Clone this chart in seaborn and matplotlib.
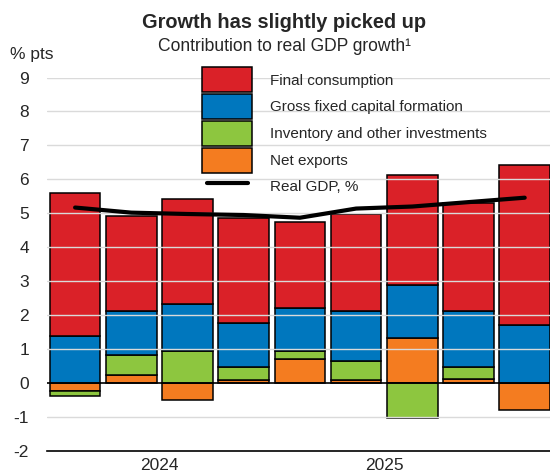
import matplotlib
matplotlib.use("Agg")
import matplotlib.pyplot as plt
from matplotlib.patches import Patch
from matplotlib.lines import Line2D
from matplotlib.legend_handler import HandlerLine2D
import numpy as np
import pandas as pd
import seaborn as sns

# Quarterly contributions to real GDP growth (% pts), 2024Q1-2026Q1
quarters = ["2024Q1", "2024Q2", "2024Q3", "2024Q4",
            "2025Q1", "2025Q2", "2025Q3", "2025Q4", "2026Q1"]
final_consumption = [4.22, 2.78, 3.07, 3.09, 2.55, 2.84, 3.23, 3.20, 4.72]
gross_fixed_capital = [1.38, 1.31, 1.39, 1.32, 1.25, 1.48, 1.56, 1.65, 1.70]
inventory_other = [-0.16, 0.59, 0.95, 0.38, 0.25, 0.55, -1.02, 0.35, 0.00]
net_exports = [-0.23, 0.23, -0.51, 0.08, 0.70, 0.10, 1.33, 0.11, -0.78]
real_gdp = [5.17, 5.02, 4.98, 4.95, 4.87, 5.14, 5.20, 5.33, 5.46]

year_labels = ["2024", "2025"]
series_names = ["Final consumption", "Gross fixed capital formation",
                "Inventory and other investments", "Net exports"]
line_name = "Real GDP, %"

colors = {
    "Net exports": "#F47C20",
    "Inventory and other investments": "#8DC63F",
    "Gross fixed capital formation": "#0077BE",
    "Final consumption": "#DA2128",
}


class ShortLineHandler(HandlerLine2D):
    """Legend line that is slightly shorter than the patch handles."""

    def get_xdata(self, legend, xdescent, ydescent, width, height, fontsize):
        inset = 0.09 * width
        return [-xdescent + inset, -xdescent + width - inset], \
               [-xdescent + inset, -xdescent + width - inset]


sns.set_style("white")
plt.rcParams["font.family"] = ["Liberation Sans", "DejaVu Sans"]

fig = plt.figure(figsize=(5.5, 4.72), dpi=100)
ax = fig.add_axes([47 / 550, 21 / 472, 1 - 47 / 550, (451 - 77.5) / 472])

x = np.arange(len(quarters))
stack_order = [
    ("Net exports", net_exports),
    ("Inventory and other investments", inventory_other),
    ("Gross fixed capital formation", gross_fixed_capital),
    ("Final consumption", final_consumption),
]
pos_base = np.zeros(len(quarters))
neg_base = np.zeros(len(quarters))
for name, vals in stack_order:
    v = np.asarray(vals, dtype=float)
    bottom = np.where(v >= 0, pos_base, neg_base)
    ax.bar(x, v, bottom=bottom, width=0.9, color=colors[name],
           edgecolor="black", linewidth=1.1, zorder=2)
    pos_base = pos_base + np.where(v > 0, v, 0)
    neg_base = neg_base + np.where(v < 0, v, 0)

# Horizontal gridlines drawn over the bars
for yv in range(-1, 10):
    if yv != 0:
        ax.axhline(yv, color="#DADADA", linewidth=1.0, zorder=3)
ax.axhline(0, color="black", linewidth=1.2, zorder=4)

gdp_df = pd.DataFrame({"x": x, "gdp": real_gdp})
sns.lineplot(data=gdp_df, x="x", y="gdp", ax=ax, color="black",
             linewidth=3.0, zorder=5, legend=False)

ax.set_xlim(-0.5, 8.45)
ax.set_ylim(-2, 9)
ax.set_xlabel("")
ax.set_ylabel("")

ax.set_yticks(range(-2, 10))
ax.set_yticklabels([str(v) for v in range(-2, 10)])
ax.tick_params(axis="y", length=0, pad=13, labelsize=12.5)

ax.set_xticks([-0.5, 3.5, 7.5])
ax.set_xticklabels(["", "", ""])
minor_pos = [0.5, 1.5, 2.5, 4.5, 5.5, 6.5]
ax.set_xticks(minor_pos, minor=True)
ax.set_xticklabels(["", year_labels[0], "", "", year_labels[1], ""], minor=True)
ax.tick_params(axis="x", which="major", direction="in", length=7, width=1.2,
               color="black")
ax.tick_params(axis="x", which="minor", direction="in", length=3.5, width=1.0,
               color="black", labelsize=12.5, pad=5)

for side in ["left", "right", "top"]:
    ax.spines[side].set_visible(False)
ax.spines["bottom"].set_color("black")
ax.spines["bottom"].set_linewidth(1.2)
ax.grid(False)

fig.text(284 / 550, 1 - 22 / 472, "Growth has slightly picked up",
         ha="center", va="center", fontsize=14.4, fontweight="bold")
fig.text(284 / 550, 1 - 46.5 / 472, "Contribution to real GDP growth\u00b9",
         ha="center", va="center", fontsize=12.65)
fig.text(10 / 550, 1 - 54 / 472, "% pts", ha="left", va="center", fontsize=12.5)

handles = [Patch(facecolor=colors[n], edgecolor="black", linewidth=1.1)
           for n in series_names]
gdp_handle = Line2D([0], [0], color="black", linewidth=3.0)
handles.append(gdp_handle)
labels = series_names + [line_name]
fig.legend(handles, labels, loc="upper left",
           bbox_to_anchor=(202 / 550, 1 - 67.5 / 472), frameon=False,
           fontsize=11, handlelength=3.3, handleheight=2.14,
           labelspacing=0.11, handletextpad=1.15, borderpad=0,
           borderaxespad=0, handler_map={gdp_handle: ShortLineHandler()})

fig.savefig("out.png", dpi=100)
